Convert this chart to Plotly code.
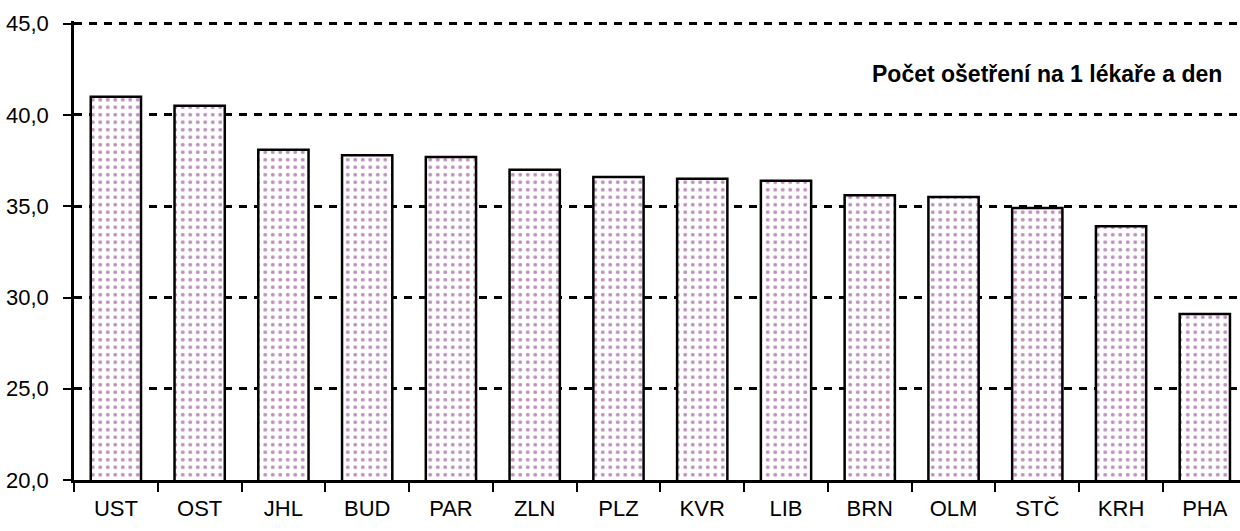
import plotly.graph_objects as go

# Počet ošetření na 1 lékaře a den, by region
regions = ["UST", "OST", "JHL", "BUD", "PAR", "ZLN", "PLZ",
           "KVR", "LIB", "BRN", "OLM", "STČ", "KRH", "PHA"]
values = [41.0, 40.5, 38.1, 37.8, 37.7, 37.0, 36.6,
          36.5, 36.4, 35.6, 35.5, 34.9, 33.9, 29.1]

title_text = "Počet ošetření na 1 lékaře a den"

fig = go.Figure()

fig.add_trace(go.Bar(
    x=regions, y=values, width=0.6,
    marker=dict(
        color="white",
        line=dict(color="black", width=2.5),
        pattern=dict(shape=".", fgcolor="#7a1f7a", bgcolor="white",
                     size=7.5, solidity=0.22),
    ),
    hoverinfo="x+y",
))

fig.update_layout(
    width=1240, height=531,
    margin=dict(l=74, r=0, t=21, b=51, autoexpand=False),
    plot_bgcolor="white", paper_bgcolor="white",
    separators=", ",
    font=dict(family="Liberation Sans, Arial, sans-serif", size=22, color="black"),
    showlegend=False,
)

fig.update_xaxes(
    range=[-0.5, 13.42],
    showline=True, linecolor="black", linewidth=2.5,
    ticks="outside", ticklen=9, tickwidth=2, tickcolor="black",
    tickson="boundaries", ticklabelstandoff=7,
    showgrid=False, automargin=False,
)

# range runs a little past 45 so plotly still draws the top dashed gridline
fig.update_yaxes(
    range=[20, 45.15], dtick=5, tickformat=".1f",
    showline=True, linecolor="black", linewidth=2.5,
    ticks="outside", ticklen=8, tickwidth=2, tickcolor="black",
    ticklabelstandoff=10,
    showgrid=True, gridcolor="black", gridwidth=2.5, griddash="8px,7px",
    zeroline=False, automargin=False,
)

fig.add_annotation(
    text="<b>" + title_text + "</b>",
    xref="paper", yref="paper", x=0.986, y=0.885,
    xanchor="right", yanchor="middle", showarrow=False,
    font=dict(size=23),
)

# drop the browser's default body margin so the figure sits at 0,0
fig.write_html("out.html", config={"displayModeBar": False},
               post_script="document.body.style.margin='0';")
